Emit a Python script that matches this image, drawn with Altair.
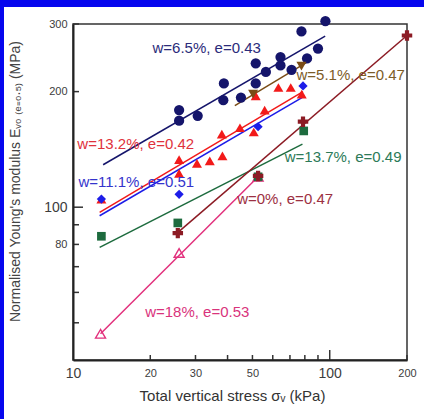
import altair as alt
import pandas as pd

# ---------------- data ----------------
series_names = ["w=6.5%, e=0.43", "w=5.1%, e=0.47", "w=13.2%, e=0.42", "w=11.1%, e=0.51",
                "w=13.7%, e=0.49", "w=0%, e=0.47", "w=18%, e=0.53"]

w65_x = [25.9, 25.9, 30.6, 38.5, 38.7, 45.1, 51.5, 51.5, 56.4, 64.3, 64.3, 71.0, 81.6, 90.0, 77.6, 96.2]
w65_y = [168, 179, 173, 190, 210, 193, 210, 237, 225, 234, 246, 228, 244, 259, 287, 305]
w51_x = [50.3, 77.6]
w51_y = [197, 233]
w132_x = [12.9, 25.9, 25.9, 30.4, 34.1, 38.2, 38.0, 44.7, 50.6, 55.8, 51.5, 63.1, 70.5, 77.8]
w132_y = [105, 133, 122.5, 130, 132, 136, 155, 161, 157, 179, 195, 205, 205, 197]
w111_x = [12.9, 25.9, 52.6, 78.7]
w111_y = [105, 108, 162, 207]
w137_x = [12.9, 25.6, 52.6, 79.2]
w137_y = [84, 91, 120, 158]
w0_x = [25.6, 52.6, 78.7, 200]
w0_y = [85.6, 120.6, 167, 280]
w18_x = [12.8, 25.9, 52.6]
w18_y = [46.8, 76, 120]

# fitted trend lines (start / end), same order as series_names
fit_x0 = [13.1, 42.7, 12.7, 12.7, 12.7, 25.9, 12.8]
fit_y0 = [129, 184, 97, 95, 78.6, 86.5, 46.8]
fit_x1 = [96.0, 81.0, 78.7, 78.0, 78.3, 200, 52.6]
fit_y1 = [279, 238, 200, 193, 146, 280, 120]

# annotation anchor points (left edge of text)
label_x = [20.4, 74.2, 10.4, 10.5, 66.8, 43.6, 19.1]
label_y = [260, 221, 146, 116, 135, 105, 53.3]

x_labels = [10, 20, 30, 50, 100, 200]
y_labels = [80, 100, 200, 300]
x_ticks_minor = [20, 30, 40, 50, 60, 70, 80, 90, 200]
x_ticks_major = [100]
y_ticks_minor = [50, 60, 70, 80, 90, 200, 300]
y_ticks_major = [100]

# ---------------- styles ----------------
point_sets = {
    "w=6.5%, e=0.43": (w65_x, w65_y),
    "w=5.1%, e=0.47": (w51_x, w51_y),
    "w=13.2%, e=0.42": (w132_x, w132_y),
    "w=11.1%, e=0.51": (w111_x, w111_y),
    "w=13.7%, e=0.49": (w137_x, w137_y),
    "w=0%, e=0.47": (w0_x, w0_y),
    "w=18%, e=0.53": (w18_x, w18_y),
}
colors = ["#15156b", "#7a4c16", "#f21a1a", "#1d1de8", "#1d6b3e", "#8c1b24", "#e2317d"]
text_colors = ["#2b2b7a", "#7d5d27", "#e0323c", "#3434cc", "#2c7a58", "#9c3042", "#d9337c"]
shapes = ["circle", "triangle-down", "triangle-up", "diamond", "square", "cross", "triangle-up"]
sizes = [105, 100, 100, 85, 75, 110, 100]
draw_order = [0, 2, 1, 3, 6, 4, 5]

FONT = "Liberation Sans"
W, H = 334, 336

xscale = alt.Scale(type="log", domain=[10, 200], nice=False)
yscale = alt.Scale(type="log", domain=[40, 300], nice=False)

major_test = "datum.value == 10 || datum.value == 100"
xaxis = alt.Axis(values=x_labels, format="d", title="Total vertical stress  σᵥ (kPa)",
                 ticks=False, tickSize=0, grid=False, domain=True, domainColor="#222", domainWidth=2,
                 labelFont=FONT, labelColor="#3c3c3c",
                 labelFontSize={"condition": {"test": major_test, "value": 14}, "value": 11},
                 labelPadding=13, labelBaseline="middle", labelOverlap=False, labelFlush=False,
                 titleFont=FONT, titleFontSize=15, titleFontWeight="normal", titleColor="#333",
                 titleX=159, titleY=35, titleBaseline="middle", titleAlign="center", zindex=1)
yaxis = alt.Axis(values=y_labels, format="d",
                 title="Normalised Young's modulus Eᵥ₀ ₍ₑ₌₀.₅₎ (MPa)",
                 ticks=False, tickSize=0, grid=False, domain=True, domainColor="#222", domainWidth=2,
                 labelFont=FONT, labelColor="#3c3c3c",
                 labelFontSize={"condition": {"test": "datum.value == 100", "value": 14}, "value": 11},
                 labelPadding=6, labelOverlap=False, labelFlush=False,
                 titleFont=FONT, titleFontSize=14, titleFontWeight="normal", titleColor="#444",
                 titleX=-58, titleY=157, titleBaseline="middle", titleAlign="center", titleAngle=270,
                 zindex=1)


def X(field):
    return alt.X(field, scale=xscale, axis=xaxis)


def Y(field):
    return alt.Y(field, scale=yscale, axis=yaxis)


layers = []

# trend lines
for i, name in enumerate(series_names):
    df = pd.DataFrame({"x": [fit_x0[i], fit_x1[i]], "y": [fit_y0[i], fit_y1[i]]})
    layers.append(
        alt.Chart(df).mark_line(color=colors[i], strokeWidth=1.5).encode(x=X("x:Q"), y=Y("y:Q"))
    )

# data points
for i in draw_order:
    name = series_names[i]
    xs, ys = point_sets[name]
    df = pd.DataFrame({"x": xs, "y": ys})
    if i == 6:
        mk = alt.Chart(df).mark_point(shape=shapes[i], size=sizes[i], filled=False,
                                      color=colors[i], strokeWidth=1.4, opacity=1)
    else:
        mk = alt.Chart(df).mark_point(shape=shapes[i], size=sizes[i], filled=True,
                                      color=colors[i], opacity=1)
    layers.append(mk.encode(x=X("x:Q"), y=Y("y:Q")))

# annotations
for i, name in enumerate(series_names):
    df = pd.DataFrame({"x": [label_x[i]], "y": [label_y[i]], "t": [name]})
    layers.append(
        alt.Chart(df).mark_text(align="left", baseline="middle", font=FONT, fontSize=15,
                                color=text_colors[i]).encode(x=X("x:Q"), y=Y("y:Q"), text="t:N")
    )

# inward tick marks
for vals, ln in ((y_ticks_minor, 6), (y_ticks_major, 10)):
    layers.append(
        alt.Chart(pd.DataFrame({"y": vals})).mark_rule(color="#333", strokeWidth=1.5).encode(
            y=Y("y:Q"), x=alt.value(0), x2=alt.value(ln))
    )
for vals, ln in ((x_ticks_minor, 5), (x_ticks_major, 10)):
    layers.append(
        alt.Chart(pd.DataFrame({"x": vals})).mark_rule(color="#333", strokeWidth=1.5).encode(
            x=X("x:Q"), y=alt.value(H), y2=alt.value(H - ln))
    )

# blue picture frame strips (decoration)
one = pd.DataFrame({"a": [0]})
layers.append(alt.Chart(one).mark_rect(color="#0606ee").encode(
    x=alt.value(-73), x2=alt.value(-69), y=alt.value(-24), y2=alt.value(395)))
layers.append(alt.Chart(one).mark_rect(color="#0606ee").encode(
    x=alt.value(-73), x2=alt.value(351), y=alt.value(-24), y2=alt.value(-17)))

chart = alt.layer(*layers).properties(
    width=W, height=H,
    autosize=alt.AutoSizeParams(type="none"),
    padding={"left": 73, "top": 24, "right": 17, "bottom": 59},
    background="white",
).configure_view(stroke="#333", strokeWidth=1.5)

chart.save("out.html", embed_options={"renderer": "svg", "actions": False})
